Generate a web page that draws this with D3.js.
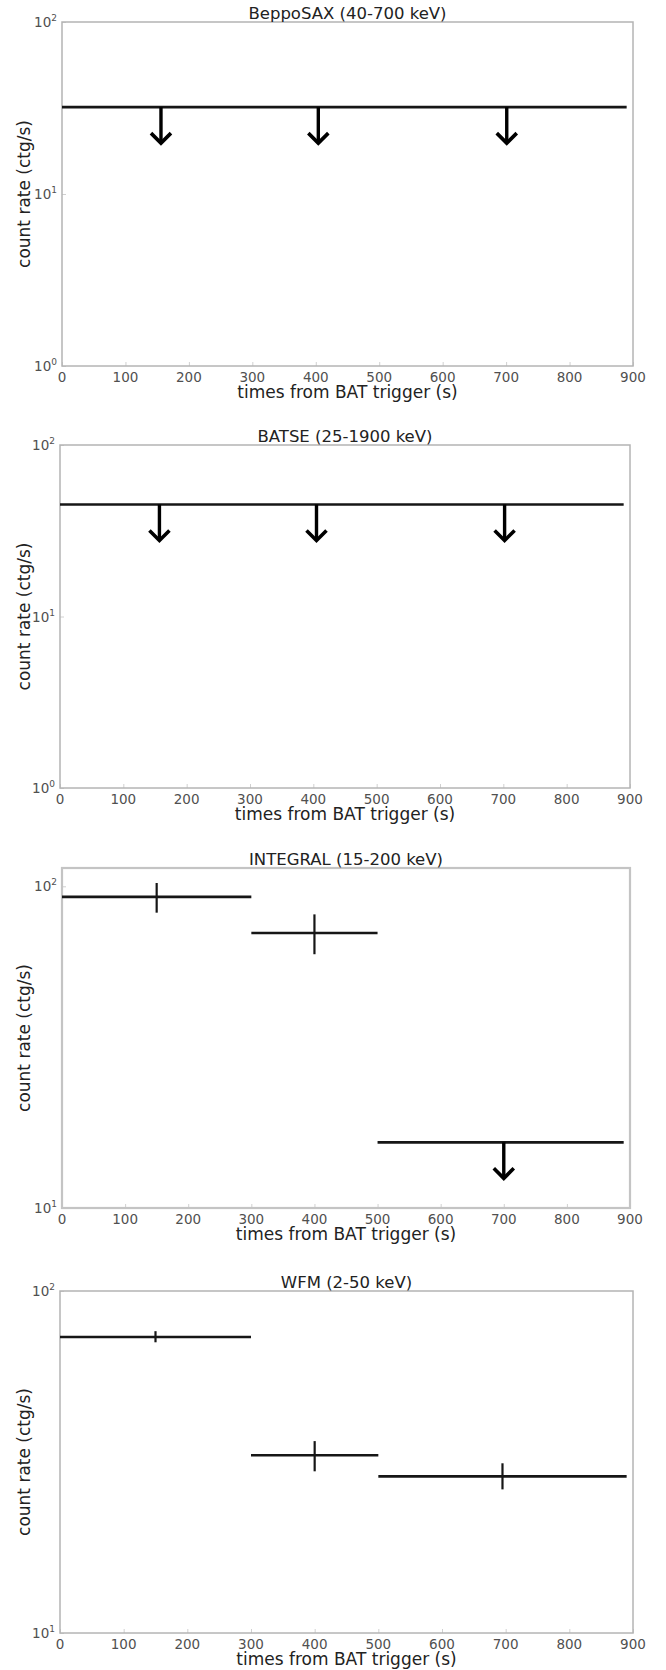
<!DOCTYPE html>
<html>
<head>
<meta charset="utf-8">
<script src="https://cdn.jsdelivr.net/npm/d3@7"></script>
<style>
  html, body { margin: 0; padding: 0; background: #fff; }
  svg { display: block; }
  text { font-family: "DejaVu Sans", sans-serif; }
</style>
</head>
<body>
<svg id="chart" width="666" height="1670"></svg>
<script>
// ---- data ----
const xTicks = [0, 100, 200, 300, 400, 500, 600, 700, 800, 900];
const titles = ["BeppoSAX (40-700 keV)", "BATSE (25-1900 keV)", "INTEGRAL (15-200 keV)", "WFM (2-50 keV)"];
const yDomains = [[1, 100], [1, 100], [10, 114], [10, 100]];
const yTickExps = [[0, 1, 2], [0, 1, 2], [1, 2], [1, 2]];

// BeppoSAX: single upper limit over the whole window
const beppoStart = [0];
const beppoEnd = [890];
const beppoLimit = [32];
const beppoArrows = [156, 404, 701];

// BATSE: single upper limit over the whole window
const batseStart = [0];
const batseEnd = [890];
const batseLimit = [45];
const batseArrows = [157, 405, 702];

// INTEGRAL: three time bins, the last one an upper limit
const integralStart = [0, 300, 500];
const integralEnd = [300, 500, 890];
const integralCenter = [150, 400, 700];
const integralRate = [92.7, 71.6, 16];
const integralLow = [82.8, 61.5, null];
const integralHigh = [102.4, 81.8, null];
const integralIsLimit = [false, false, true];

// WFM: three time bins, all detections
const wfmStart = [0, 300, 500];
const wfmEnd = [300, 500, 890];
const wfmCenter = [150, 400, 695];
const wfmRate = [73.4, 33.1, 28.7];
const wfmLow = [70.8, 29.7, 26.3];
const wfmHigh = [76.3, 36.4, 31.35];
const wfmIsLimit = [false, false, false];

// ---- layout ----
const frames = [
  { left: 62, right: 633, top: 22, bottom: 366 },
  { left: 60, right: 630, top: 445, bottom: 788 },
  { left: 62, right: 630, top: 868, bottom: 1208 },
  { left: 60, right: 633, top: 1291, bottom: 1633 }
];
const ARROW_LEN = 37;   // arrow length in px (fixed, as in the plotting style)
const HEAD = 10;        // arrowhead half-size in px

const panels = [
  {
    bins: beppoStart.map((s, i) => ({ start: s, end: beppoEnd[i], rate: beppoLimit[i] })),
    limits: beppoArrows.map(x => ({ x, rate: beppoLimit[0] })),
    errors: []
  },
  {
    bins: batseStart.map((s, i) => ({ start: s, end: batseEnd[i], rate: batseLimit[i] })),
    limits: batseArrows.map(x => ({ x, rate: batseLimit[0] })),
    errors: []
  },
  {
    bins: integralStart.map((s, i) => ({ start: s, end: integralEnd[i], rate: integralRate[i] })),
    limits: integralCenter.map((x, i) => ({ x, rate: integralRate[i], lim: integralIsLimit[i] })).filter(d => d.lim),
    errors: integralCenter.map((x, i) => ({ x, lo: integralLow[i], hi: integralHigh[i], lim: integralIsLimit[i] })).filter(d => !d.lim)
  },
  {
    bins: wfmStart.map((s, i) => ({ start: s, end: wfmEnd[i], rate: wfmRate[i] })),
    limits: wfmCenter.map((x, i) => ({ x, rate: wfmRate[i], lim: wfmIsLimit[i] })).filter(d => d.lim),
    errors: wfmCenter.map((x, i) => ({ x, lo: wfmLow[i], hi: wfmHigh[i], lim: wfmIsLimit[i] })).filter(d => !d.lim)
  }
];

const svg = d3.select("#chart");
const INK = "#161616";

panels.forEach((p, k) => {
  const f = frames[k];
  const x = d3.scaleLinear().domain([0, 900]).range([f.left, f.right]);
  const y = d3.scaleLog().domain(yDomains[k]).range([f.bottom, f.top]);
  const g = svg.append("g");

  // inward ticks
  const xAxis = d3.axisBottom(x).tickValues(xTicks).tickSize(-4).tickFormat("");
  g.append("g").attr("transform", `translate(0,${f.bottom})`).call(xAxis)
    .call(a => a.select(".domain").remove())
    .call(a => a.selectAll("line").attr("stroke", "#d0d0d0"));
  const yAxis = d3.axisLeft(y).tickValues(yTickExps[k].map(e => Math.pow(10, e))).tickSize(-4).tickFormat("");
  g.append("g").attr("transform", `translate(${f.left},0)`).call(yAxis)
    .call(a => a.select(".domain").remove())
    .call(a => a.selectAll("line").attr("stroke", "#d0d0d0"));

  // frame
  g.append("rect")
    .attr("x", f.left).attr("y", f.top)
    .attr("width", f.right - f.left).attr("height", f.bottom - f.top)
    .attr("fill", "none").attr("stroke", k === 2 ? "#c4c4c4" : "#b4b4b4")
    .attr("stroke-width", k === 2 ? 2.2 : 1.5);

  // x tick labels
  g.selectAll(".xl").data(xTicks).enter().append("text")
    .attr("x", d => x(d)).attr("y", f.bottom + 15.5)
    .attr("text-anchor", "middle").attr("font-size", 13.5).attr("fill", "#505050")
    .text(d => d);

  // y tick labels as powers of ten
  const yl = g.selectAll(".yl").data(yTickExps[k]).enter().append("text")
    .attr("x", f.left - 5).attr("y", d => y(Math.pow(10, d)) + 5)
    .attr("text-anchor", "end").attr("font-size", 13.5).attr("fill", "#505050");
  yl.append("tspan").text("10");
  yl.append("tspan").attr("font-size", 9).attr("dy", -6).text(d => d);

  // title and axis labels
  g.append("text")
    .attr("x", (f.left + f.right) / 2).attr("y", f.top - 3)
    .attr("text-anchor", "middle").attr("font-size", 16.5).attr("fill", "#222")
    .text(titles[k]);
  g.append("text")
    .attr("x", (f.left + f.right) / 2).attr("y", f.bottom + 32)
    .attr("text-anchor", "middle").attr("font-size", 17).attr("fill", "#222")
    .text("times from BAT trigger (s)");
  g.append("text")
    .attr("transform", `translate(24,${(f.top + f.bottom) / 2}) rotate(-90)`)
    .attr("text-anchor", "middle").attr("dominant-baseline", "central")
    .attr("font-size", 17).attr("fill", "#222")
    .text("count rate (ctg/s)");

  // horizontal time-bin bars
  g.selectAll(".bin").data(p.bins).enter().append("line")
    .attr("x1", d => x(d.start)).attr("x2", d => x(d.end))
    .attr("y1", d => y(d.rate)).attr("y2", d => y(d.rate))
    .attr("stroke", INK).attr("stroke-width", 2.6);

  // vertical error bars
  g.selectAll(".err").data(p.errors).enter().append("line")
    .attr("x1", d => x(d.x)).attr("x2", d => x(d.x))
    .attr("y1", d => y(d.lo)).attr("y2", d => y(d.hi))
    .attr("stroke", INK).attr("stroke-width", 2.2);

  // upper-limit arrows
  const ar = g.selectAll(".lim").data(p.limits).enter().append("g")
    .attr("transform", d => `translate(${x(d.x)},${y(d.rate)})`);
  ar.append("line")
    .attr("x1", 0).attr("x2", 0).attr("y1", 0).attr("y2", ARROW_LEN - 1.5)
    .attr("stroke", "#000").attr("stroke-width", 3.4);
  ar.append("path")
    .attr("d", `M${-HEAD},${ARROW_LEN - HEAD - 1} L0,${ARROW_LEN - 1} L${HEAD},${ARROW_LEN - HEAD - 1}`)
    .attr("fill", "none").attr("stroke", "#000").attr("stroke-width", 3.6)
    .attr("stroke-linejoin", "miter").attr("stroke-linecap", "butt");
});
</script>
</body>
</html>
